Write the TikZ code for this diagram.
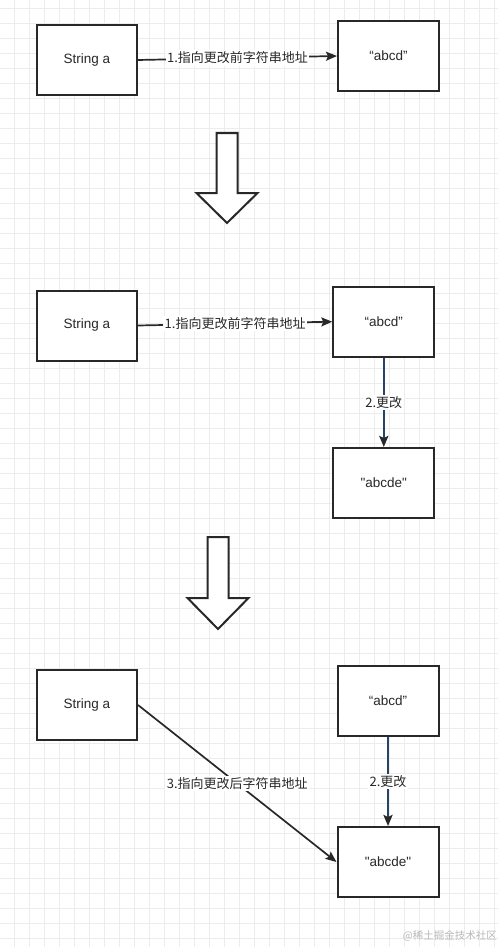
\documentclass[tikz,border=0pt]{standalone}
\usepackage{fontspec}
\setmainfont{Liberation Sans}
\newfontfamily\cjk{Noto Sans CJK SC}
\usetikzlibrary{arrows.meta, positioning}
\definecolor{gridgray}{RGB}{236,236,236}
\definecolor{inkgray}{RGB}{40,40,40}
\definecolor{editblue}{RGB}{38,68,104}

\begin{document}
\begin{tikzpicture}[
    x=1pt, y=-1pt,
    strbox/.style={rectangle, draw=inkgray, fill=white, line width=2pt, minimum width=100pt, minimum height=70pt, align=center, font=\fontsize{13.5}{16}\selectfont, text=inkgray},
    arrow/.style={-{Stealth[length=11pt, width=9pt, inset=2pt]}, line width=1.7pt, draw=inkgray},
    editarrow/.style={draw=editblue, line width=2.6pt, -{Stealth[length=11pt, width=9pt, inset=2pt, fill=inkgray, color=inkgray]}},
    label/.style={fill=white, inner sep=1.5pt, text=inkgray, font=\cjk\fontsize{13}{15}\selectfont},
    bigarrow/.style={draw=inkgray, fill=white, line width=2pt, line join=miter},
    gridline/.style={draw=gridgray, line width=0.7pt}
]

% Canvas and grid
\useasboundingbox (0,0) rectangle (498,947);
\fill[white] (0,0) rectangle (498,947);
\foreach \gx in {14,29,...,494} \draw[gridline] (\gx,0) -- (\gx,947);
\foreach \gy in {8,23,...,938} \draw[gridline] (0,\gy) -- (498,\gy);

% Step 1
\node[strbox] (sa1) at (87,60) {String a};
\node[strbox, minimum width=101pt] (ab1) at (388.5,56) {“abcd”};
\draw[arrow] (sa1.east) -- (ab1.west) node[midway, label] (l1) {1.指向更改前字符串地址};

% Down arrow 1
\draw[bigarrow] (216.5,133) -- (216.5,193) -- (196.5,193) -- (227,223) -- (257.5,193) -- (237.5,193) -- (237.5,133) -- cycle;

% Step 2
\node[strbox] (sa2) at (87,325.5) {String a};
\node[strbox, minimum width=101pt] (ab2) at (383.8,321.7) {“abcd”};
\node[strbox, minimum width=101pt] (abe2) at (383.8,483) {\textquotedbl abcde\textquotedbl};
\draw[arrow] (sa2.east) -- (ab2.west) node[midway, label] (l2) {1.指向更改前字符串地址};
\draw[editarrow] (ab2.south) -- (abe2.north) node[midway, label] (e2) {2.更改};

% Down arrow 2
\draw[bigarrow] (207.5,537) -- (207.5,598) -- (187.5,598) -- (218,629) -- (248.5,598) -- (228.5,598) -- (228.5,537) -- cycle;

% Step 3
\node[strbox] (sa3) at (87,705) {String a};
\node[strbox, minimum width=101pt] (ab3) at (388,701) {“abcd”};
\node[strbox, minimum width=101pt] (abe3) at (388,862) {\textquotedbl abcde\textquotedbl};
\draw[editarrow] (ab3.south) -- (abe3.north) node[midway, label] (e3) {2.更改};
\draw[arrow] (sa3.east) -- (abe3.west) node[midway, label] (l3) {3.指向更改后字符串地址};

% Watermark
\node[anchor=east, inner sep=0pt, text=gray!55, font=\cjk\fontsize{10.5}{12}\selectfont] (wm) at (497,936) {@稀土掘金技术社区};

\end{tikzpicture}
\end{document}
